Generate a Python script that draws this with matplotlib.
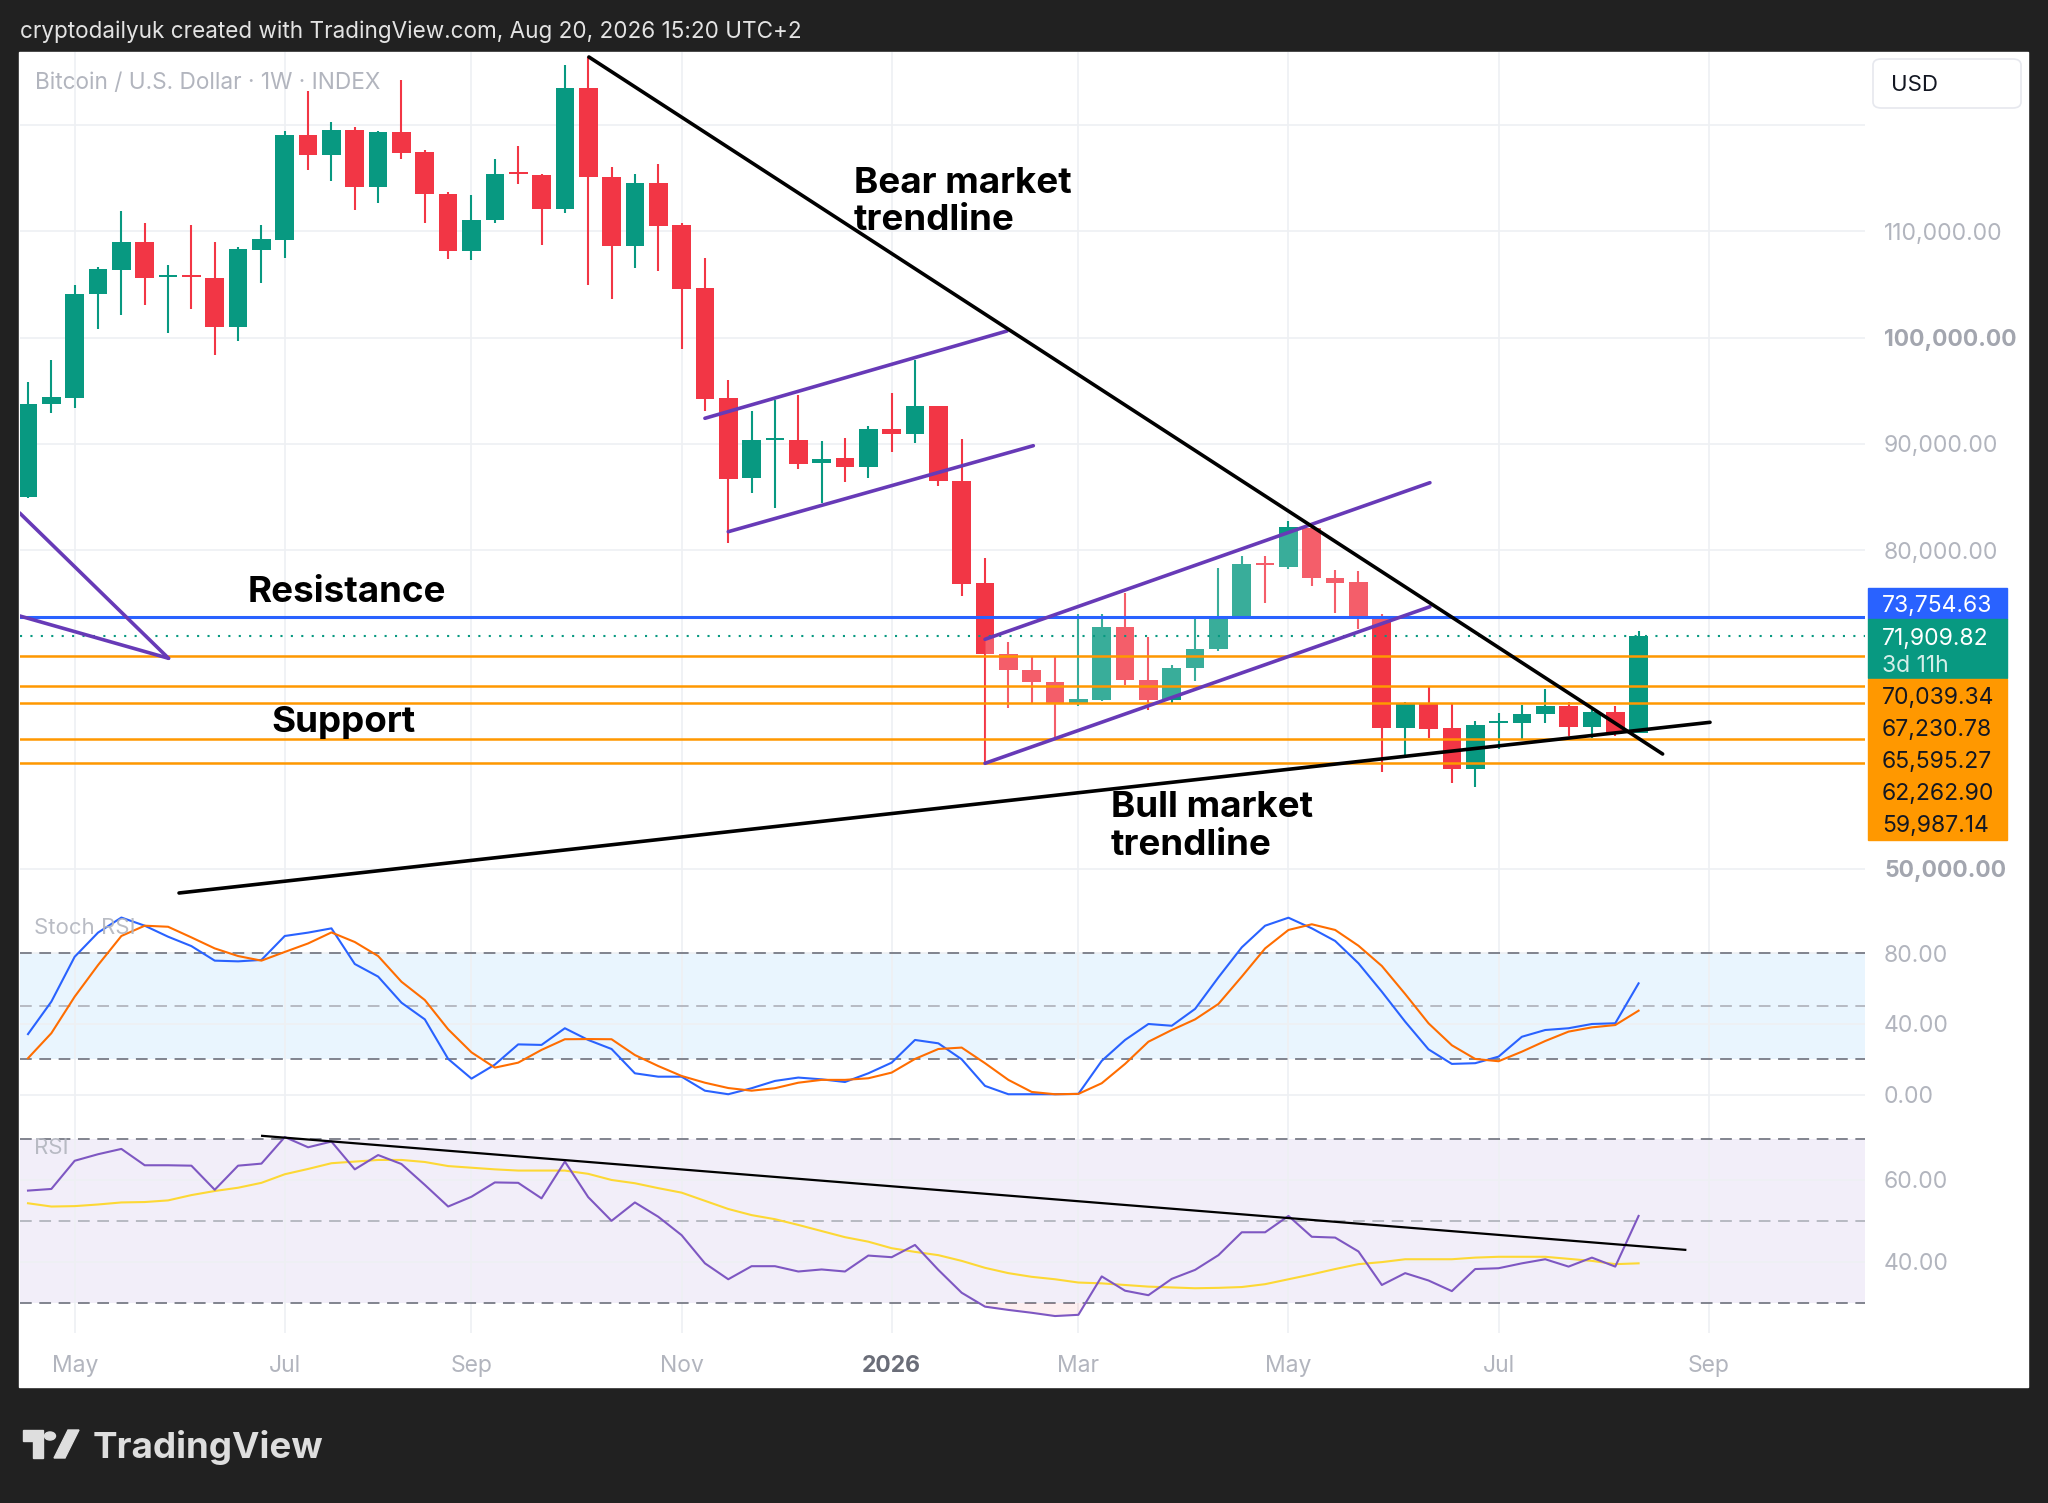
import numpy as np
import pandas as pd
import matplotlib
matplotlib.use('Agg')
import matplotlib.pyplot as plt
from matplotlib.patches import Rectangle, FancyBboxPatch, Circle, Polygon

plt.rcParams['font.family'] = ['Inter', 'DejaVu Sans']

W, H = 2048, 1503

# Weekly BTC/USD candles, first bar week of Apr 21 2025
dates = pd.date_range('2025-04-21', periods=70, freq='7D')
opens = [85030, 93750, 94350, 104080, 106390, 108970, 105700, 105800, 105580, 100970,
         108270, 109190, 119070, 117210, 119510, 114200, 119350, 117470, 113540, 108180,
         111070, 115460, 115300, 112100, 123520, 115110, 108650, 114520, 110600, 104700,
         94290, 86760, 90370, 90370, 88170, 88670, 87850, 91430, 90900, 93560,
         86510, 76880, 70230, 68720, 67560, 65640, 65900, 72740, 67780, 65900,
         68880, 70670, 73830, 78820, 78440, 82110, 77410, 76980, 73550, 63240,
         65490, 63240, 59410, 63710, 63710, 64580, 65310, 63390, 64800, 62820]
highs = [95820, 97890, 104950, 106640, 111910, 110760, 106830, 110600, 109000, 108500,
         110600, 119440, 123210, 120290, 119790, 119400, 124240, 117650, 113700, 113420,
         116780, 118000, 115400, 125680, 126430, 116030, 115400, 116370, 110760, 107460,
         96010, 93090, 94130, 94600, 90270, 90520, 91710, 94760, 97890, 93600,
         90430, 79290, 71360, 69970, 69970, 73990, 73990, 75940, 71850, 69190,
         73740, 78290, 79450, 79450, 82770, 82150, 78130, 78040, 73960, 65740,
         67150, 65490, 63920, 64650, 65430, 66900, 65740, 64960, 65330, 72420]
lows = [84900, 92930, 93400, 100810, 102100, 103070, 100430, 102720, 98390, 99710,
        105170, 107460, 115770, 114710, 112040, 112670, 116840, 110780, 107400, 107300,
        110760, 114450, 108710, 111700, 104950, 103630, 106580, 106300, 98900, 93090,
        80640, 85350, 83940, 87640, 84410, 86380, 86790, 89260, 90050, 86040,
        75690, 59940, 65120, 65640, 62350, 65330, 65830, 67310, 64960, 65640,
        67720, 70510, 73700, 75000, 78200, 76630, 74110, 72580, 59120, 60720,
        62350, 58060, 57740, 61260, 62140, 63710, 62510, 62290, 62510, 62770]
closes = [93750, 94410, 104130, 106480, 108970, 105610, 105800, 105700, 100970, 108340,
          109250, 119070, 117210, 119510, 114200, 119350, 117400, 113490, 108180, 111100,
          115400, 115370, 112100, 123520, 115090, 108650, 114520, 110530, 104600, 94250,
          86720, 90370, 90460, 88080, 88550, 87850, 91400, 90900, 93560, 86510,
          76820, 70230, 68720, 67560, 65640, 65960, 72740, 67780, 65900, 68880,
          70670, 73740, 78670, 78600, 82150, 77350, 76940, 73550, 63240, 65490,
          63140, 59410, 63550, 63830, 64580, 65310, 63390, 64800, 62920, 71909.82]

# Stoch RSI (%K, %D)
stoch_k = [34.3, 52.6, 77.9, 91.5, 100, 95.4, 89.2, 83.9, 75.7, 75.3, 76.1, 89.6, 91.5, 93.9,
           73.8, 66.7, 52.0, 42.6, 20.3, 9.2, 17.1, 28.5, 28.2, 37.6, 31.0,
           25.9, 12.2, 10.3, 10.3, 2.4, 0.4, 3.8, 7.9, 9.8, 8.8, 7.3, 12.2, 18.2, 31.0,
           29.1, 20.1, 5.1, 0.4, 0.4, 0.4, 0.6, 19.2, 31.0, 40.0,
           39.0, 48.5, 66.3, 83.2, 95.4, 99.9, 93.9, 86.8, 74.2, 58.2, 41.3, 25.7, 17.5,
           17.9, 21.6, 32.8, 36.6, 37.6, 40.0, 40.4, 62.9]
stoch_d = [20.7, 34.8, 55.4, 73.2, 89.6, 95.4, 94.8, 88.8, 82.6, 78.3, 75.7, 80.6, 85.4, 91.6,
           86.2, 78.3, 63.8, 53.5, 37.0, 24.0, 15.4, 18.2, 25.4, 31.4, 31.5,
           31.4, 22.5, 16.3, 10.7, 6.9, 3.9, 2.4, 3.8, 6.9, 8.5, 8.5, 9.4, 12.6, 20.3,
           25.9, 26.7, 17.9, 8.5, 1.7, 0.4, 0.6, 6.6, 17.5, 30.0,
           36.6, 42.6, 51.3, 66.7, 82.6, 93.0, 96.2, 93.0, 84.1, 72.7, 56.9, 40.4, 28.0,
           20.3, 19.0, 24.4, 30.4, 35.7, 38.1, 39.4, 47.5]

# RSI and its moving average
rsi = [57.4, 57.8, 64.7, 66.3, 67.6, 63.6, 63.6, 63.5, 57.6, 63.5, 64.0, 70.5, 68.0, 69.4,
       62.6, 66.1, 63.9, 58.8, 53.5, 55.9, 59.4, 59.3, 55.5, 64.5, 55.8,
       50.0, 54.5, 51.0, 46.5, 39.6, 35.7, 38.9, 38.9, 37.6, 38.1, 37.6, 41.5, 41.1, 44.1,
       38.0, 32.4, 29.0, 28.2, 27.5, 26.7, 27.0, 36.4, 32.9, 31.8,
       35.8, 38.0, 41.6, 47.2, 47.2, 51.2, 46.1, 45.9, 42.5, 34.3, 37.2, 35.4, 32.8,
       38.2, 38.4, 39.6, 40.6, 38.8, 41.0, 38.8, 51.2]
rsi_ma = [54.3, 53.5, 53.6, 54.0, 54.5, 54.6, 55.0, 56.3, 57.3, 58.1, 59.3, 61.4, 62.7, 64.1,
          64.5, 64.9, 64.9, 64.4, 63.4, 63.0, 62.6, 62.3, 62.3, 62.3, 61.5,
          60.0, 59.2, 58.0, 56.9, 54.9, 52.9, 51.4, 50.4, 49.0, 47.5, 46.0, 44.9, 43.3, 42.4,
          41.6, 40.2, 38.5, 37.2, 36.3, 35.7, 34.9, 34.7, 34.3, 33.9,
          33.7, 33.5, 33.6, 33.8, 34.5, 35.7, 36.9, 38.2, 39.4, 39.9, 40.6, 40.6, 40.6,
          41.0, 41.2, 41.2, 41.2, 40.7, 40.2, 39.4, 39.6]

resistance = 73754.63
last_price = 71909.82
supports = [70039.34, 67230.78, 65595.27, 62262.90, 59987.14]

# drawings: (bar index, price)
bear_line = [(24.03, 126405), (70.03, 60817)]
bull_line = [(6.47, 47737), (72.06, 63799)]
left_a = [(-0.36, 83500), (6.02, 69823)]
left_b = [(-0.36, 73810), (6.02, 69823)]
ch1_up = [(29.0, 92407), (41.94, 100622)]
ch1_lo = [(30.0, 81735), (43.07, 89829)]
ch2_up = [(41.0, 71610), (60.06, 86347)]
ch2_lo = [(41.0, 59942), (60.06, 74678)]
rsi_line = [(10.03, 70.8), (71.0, 42.9)]

UP, DOWN = '#089981', '#f23645'
GRID = '#eef0f3'
AXTXT = '#b2b5be'


def axrect(x0, y0, x1, y1):
    return [x0 / W, 1 - y1 / H, (x1 - x0) / W, (y1 - y0) / H]


def fx(x):
    return x / W


def fy(y):
    return 1 - y / H


fig = plt.figure(figsize=(W / 100, H / 100), dpi=100, facecolor='#212121')
fig.add_artist(Rectangle((fx(19), fy(1387)), 2009 / W, 1335 / H, transform=fig.transFigure,
                         color='white', zorder=-10))

ax = fig.add_axes(axrect(20, 52, 1865, 895))
ax_st = fig.add_axes(axrect(20, 895, 1865, 1115), sharex=ax)
ax_rsi = fig.add_axes(axrect(20, 1115, 1865, 1333), sharex=ax)

x = np.arange(len(dates))
o, hi, lo, c = map(np.array, (opens, highs, lows, closes))

# month ticks at first weekly bar of each odd month
ext = pd.date_range(dates[0], periods=80, freq='7D')
month_idx, month_lab = [], []
for i in range(1, len(ext)):
    if ext[i].month != ext[i - 1].month and ext[i].month % 2 == 1:
        month_idx.append(i)
        month_lab.append(str(ext[i].year) if ext[i].month == 1 else ext[i].strftime('%b'))

for a in (ax, ax_st, ax_rsi):
    a.set_facecolor('none')
    for s in a.spines.values():
        s.set_visible(False)
    a.set_axisbelow(True)
    a.grid(True, color=GRID, lw=1.2)
    a.yaxis.tick_right()
    a.tick_params(axis='y', length=0, pad=13.7, labelsize=16.5, labelcolor=AXTXT)
    a.tick_params(axis='x', length=0)

ax.set_xlim(-0.343, 78.7)
ax.set_xticks(month_idx)
ax.tick_params(axis='x', labelbottom=False)
ax_st.tick_params(axis='x', labelbottom=False)
ax_rsi.set_xticks(month_idx, month_lab)
ax_rsi.tick_params(axis='x', labelbottom=True, pad=15.8, labelsize=16.5, labelcolor=AXTXT)
for t in ax_rsi.get_xticklabels():
    if t.get_text().isdigit():
        t.set_fontweight('bold')
        t.set_color('#6a6d78')

# ---- main price pane ----
ax.set_ylim(47549, 126875)
pticks = np.arange(50000, 130000, 10000)
plabels = ['' if p in (60000, 70000, 120000) else f'{p:,.2f}' for p in pticks]
ax.set_yticks(pticks, plabels)
for t, p in zip(ax.get_yticklabels(), pticks):
    if p in (50000, 100000):
        t.set_fontweight('bold')
        t.set_color('#a3a6af')

col = np.where(c >= o, UP, DOWN)
ax.vlines(x, lo, hi, colors=col, lw=1.5, zorder=2)
body = np.maximum(np.abs(c - o), 200)
ax.bar(x, body, bottom=np.minimum(o, c), width=0.8, color=col, lw=0, zorder=2)

# channel 2 background lightens the candles inside it
ax.fill_between([ch2_up[0][0], ch2_up[1][0]], [ch2_lo[0][1], ch2_lo[1][1]],
                [ch2_up[0][1], ch2_up[1][1]], color='white', alpha=0.2, lw=0, zorder=3)

ax.axhline(resistance, color='#2962ff', lw=2.2, zorder=4)
ax.axhline(last_price, color=UP, lw=1.5, ls=(0, (1, 4)), zorder=4)
for s in supports:
    ax.axhline(s, color='#ff9800', lw=1.8, zorder=4)

for ln in (left_a, left_b, ch1_up, ch1_lo, ch2_up, ch2_lo):
    ax.plot([ln[0][0], ln[1][0]], [ln[0][1], ln[1][1]], color='#673ab7', lw=2.6,
            solid_capstyle='round', zorder=5)
for ln in (bear_line, bull_line):
    ax.plot([ln[0][0], ln[1][0]], [ln[0][1], ln[1][1]], color='black', lw=2.6,
            solid_capstyle='round', zorder=5)

lbl = dict(fontsize=26.5, fontweight='bold', color='black', va='baseline', zorder=6)
ax.text(35.39, 113607, 'Bear market', **lbl)
ax.text(35.39, 110126, 'trendline', **lbl)
ax.text(9.42, 75149, 'Resistance', **lbl)
ax.text(10.41, 62916, 'Support', **lbl)
ax.text(46.39, 54918, 'Bull market', **lbl)
ax.text(46.39, 51313, 'trendline', **lbl)

# ---- stoch RSI pane ----
ax_st.set_ylim(-11.3, 112.7)
ax_st.set_yticks([0, 40, 80], ['0.00', '40.00', '80.00'])
ax_st.axhspan(20, 80, color='#e9f5fe', lw=0, zorder=0.1)
for lvl, cc in ((80, '#787b86'), (50, '#b2b5be'), (20, '#787b86')):
    ax_st.axhline(lvl, color=cc, lw=1.3, ls=(0, (6.5, 4.2)), zorder=1)
ax_st.plot(x, stoch_k, color='#2962ff', lw=1.5, zorder=3)
ax_st.plot(x, stoch_d, color='#ff6d00', lw=1.5, zorder=3)

# ---- RSI pane ----
ax_rsi.set_ylim(22.55, 75.9)
ax_rsi.set_yticks([40, 60], ['40.00', '60.00'])
ax_rsi.axhspan(30, 70, color='#f2eef9', lw=0, zorder=0.1)
for lvl, cc in ((70, '#787b86'), (50, '#b2b5be'), (30, '#787b86')):
    ax_rsi.axhline(lvl, color=cc, lw=1.3, ls=(0, (6.5, 4.2)), zorder=1)
r = np.array(rsi)
ax_rsi.fill_between(x, r, 30, where=r < 30, interpolate=True, color='#f23645', alpha=0.08,
                    lw=0, zorder=1.5)
ax_rsi.plot(x, rsi_ma, color='#fdd835', lw=1.5, zorder=3)
ax_rsi.plot(x, rsi, color='#7e57c2', lw=1.5, zorder=3)
ax_rsi.plot([rsi_line[0][0], rsi_line[1][0]], [rsi_line[0][1], rsi_line[1][1]],
            color='black', lw=1.6, zorder=4)

# ---- texts on the frame ----
fig.text(fx(20), fy(38), 'cryptodailyuk created with TradingView.com, Aug 20, 2026 15:20 UTC+2',
         color='#e3e3e3', fontsize=16.2, va='baseline')
fig.text(fx(35), fy(89), 'Bitcoin / U.S. Dollar · 1W · INDEX', color=AXTXT, fontsize=16.3,
         va='baseline')
fig.text(fx(34), fy(934), 'Stoch RSI', color=AXTXT, fontsize=16, va='baseline', alpha=0.9)
fig.text(fx(34), fy(1154), 'RSI', color=AXTXT, fontsize=16, va='baseline', alpha=0.9)

fig.add_artist(FancyBboxPatch((fx(1873), fy(108)), 148 / W, 49 / H,
                              boxstyle='round,pad=0,rounding_size=0.004',
                              transform=fig.transFigure, facecolor='white',
                              edgecolor='#e6e8ee', lw=1.2))
fig.text(fx(1891), fy(91), 'USD', color='#131722', fontsize=16, va='baseline')


# ---- price scale labels ----
def py(price):
    return H - ax.transData.transform((0, price))[1]


bx, bw = 1868, 139
g_top = py(last_price) - 17


def box(y0, h, color):
    fig.add_artist(Rectangle((fx(bx), fy(y0 + h)), bw / W, h / H, transform=fig.transFigure,
                             color=color, zorder=5))


box(g_top - 31, 31, '#2962ff')
fig.text(fx(1882), fy(g_top - 15.5), f'{resistance:,.2f}', color='white', fontsize=16.5,
         va='center_baseline', zorder=6)
box(g_top, 59, UP)
fig.text(fx(1882), fy(g_top + 17), f'{last_price:,.2f}', color='white', fontsize=16.5,
         va='center_baseline', zorder=6)
fig.text(fx(1882), fy(g_top + 44), '3d 11h', color='#d5eee9', fontsize=16.5,
         va='center_baseline', zorder=6)
o_top = g_top + 60
box(o_top, 5 * 32.2, '#ff9800')
for k, s in enumerate(supports):
    fig.text(fx(1882), fy(o_top + 16 + k * 32.2), f'{s:,.2f}', color='#131722',
             fontsize=16.5, va='center_baseline', zorder=6)

# ---- TradingView logo ----
LOGO = '#dedede'
logo = dict(transform=fig.transFigure, color=LOGO)
fig.add_artist(Polygon([(fx(23), fy(1430)), (fx(43), fy(1430)), (fx(43), fy(1458)),
                        (fx(33), fy(1458)), (fx(33), fy(1441)), (fx(23), fy(1441))], **logo))
fig.add_artist(Circle((fx(50), fy(1436)), 5.5 / W, **logo))
fig.add_artist(Polygon([(fx(54), fy(1458)), (fx(65), fy(1458)), (fx(79), fy(1430)),
                        (fx(68), fy(1430))], **logo))
fig.text(fx(93), fy(1458), 'TradingView', color=LOGO, fontsize=26.5, fontweight='bold',
         va='baseline')

fig.savefig('out.png', dpi=100, facecolor=fig.get_facecolor())
